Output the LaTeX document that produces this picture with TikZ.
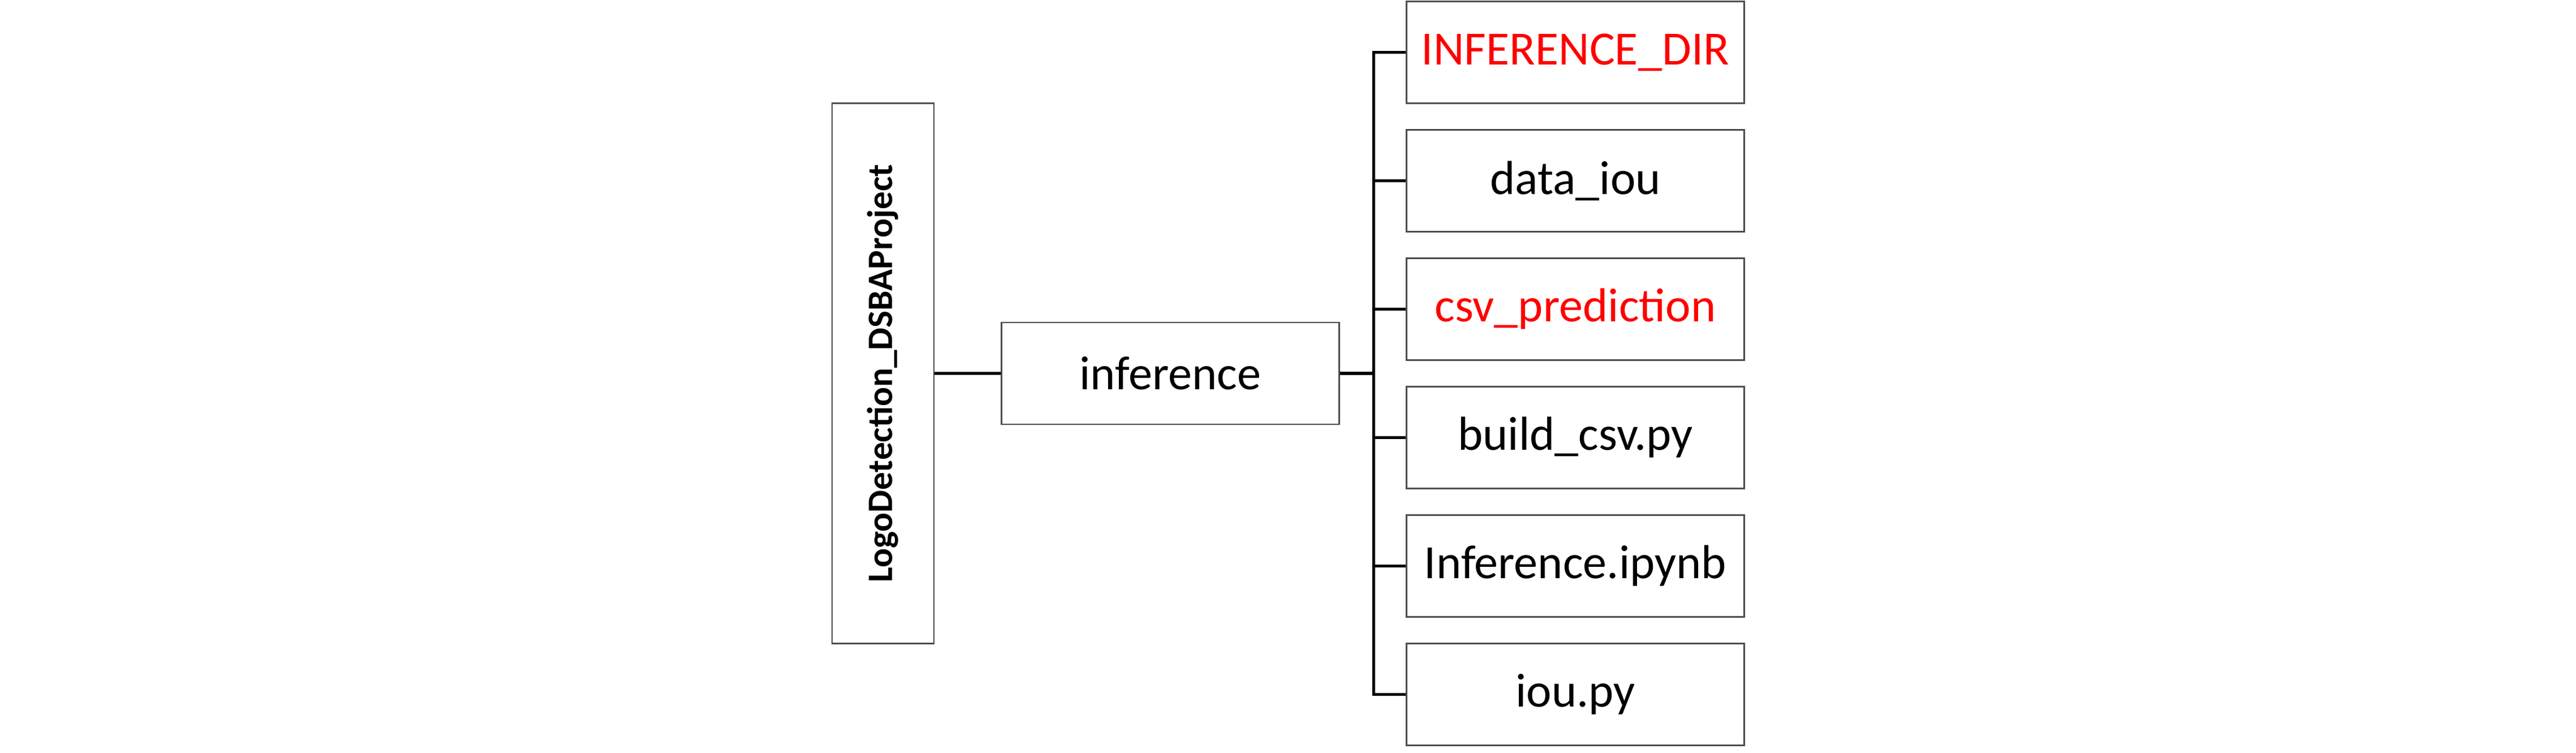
\documentclass[tikz,border=0pt]{standalone}
\usepackage{fontspec}
\setmainfont{Carlito}
\usetikzlibrary{trees}
\begin{document}
\begin{tikzpicture}[grow'=right,
                    box/.style={draw=black!70, line width=0.6pt, minimum width=59.7mm, minimum height=18mm, font=\fontsize{24}{28}\selectfont},
                    edge from parent/.style={draw, line width=1.5pt},
                    level 1/.style={level distance=50.8mm, edge from parent path={(\tikzparentnode.east) -- (\tikzchildnode.west)}},
                    level 2/.style={level distance=71.6mm, sibling distance=22.7mm, edge from parent path={(\tikzparentnode.east) -- ++(6mm,0) |- (\tikzchildnode.west)}}]
              \useasboundingbox (0,0) rectangle (455.4mm,133.1mm);
              \node[draw=black!70, line width=0.6pt, minimum width=18mm, minimum height=95.5mm] (root) at (156.1mm,67.1mm) {\rotatebox{90}{\fontsize{18}{22}\selectfont\bfseries LogoDetection\_DSBAProject}}
                child {node [box] (inf) {inference}
                  child {node [box, text=red] (dir) {INFERENCE\_DIR}}
                  child {node [box] (data) {data\_iou}}
                  child {node [box, text=red] (csv) {csv\_prediction}}
                  child {node [box] (build) {build\_csv.py}}
                  child {node [box] (nb) {Inference.ipynb}}
                  child {node [box] (iou) {iou.py}}
                };
            \end{tikzpicture}
\end{document}
